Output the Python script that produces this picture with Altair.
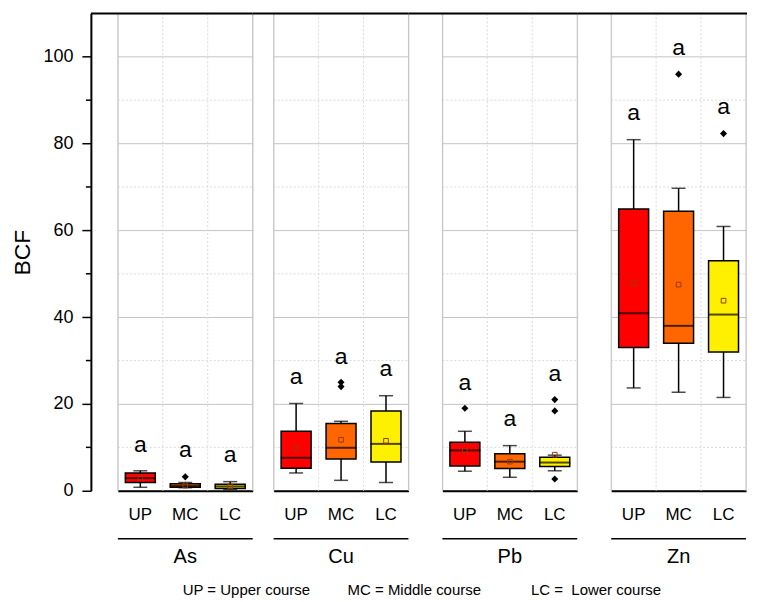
import altair as alt
import pandas as pd

metals = ["As", "Cu", "Pb", "Zn"]
courses = ["UP", "MC", "LC"]
box_colors = ["#FF0000", "#FF6600", "#FFF000"]

# per metal, per course (UP, MC, LC)
whisker_low = [0.8, 0.7, 0.3,   4.1, 2.4, 1.9,   4.5, 3.1, 4.6,   23.7, 22.7, 21.5]
q1          = [1.9, 0.8, 0.5,   5.2, 7.3, 6.6,   5.7, 5.1, 5.6,   33.0, 34.0, 32.0]
median      = [2.9, 1.1, 1.0,   7.6, 9.9, 10.8,  9.3, 6.7, 6.5,   40.9, 38.0, 40.6]
q3          = [4.1, 1.6, 1.5,   13.7, 15.5, 18.4, 11.2, 8.5, 7.7, 64.9, 64.4, 53.0]
whisker_high= [4.6, 1.9, 2.1,   20.1, 16.0, 21.9, 13.7, 10.4, 8.2, 80.9, 69.7, 60.9]
mean        = [3.0, 1.2, 1.0,   9.7, 11.75, 11.5, 9.2, 6.7, 8.3,  47.8, 47.5, 43.8]
letter_y    = [8.9, 7.7, 6.6,   24.5, 29.2, 26.4, 23.3, 15.0, 25.4, 85.4, 100.5, 86.8]

out_metal  = ["As", "Cu", "Cu", "Pb", "Pb", "Pb", "Pb", "Zn", "Zn"]
out_course = ["MC", "MC", "MC", "UP", "LC", "LC", "LC", "MC", "LC"]
out_value  = [3.2, 24.0, 25.0, 19.0, 21.0, 18.4, 2.7, 96.0, 82.3]

minor_grid = [10, 30, 50, 70, 90]
major_ticks = [0, 20, 40, 60, 80, 100]
legend_texts = ["UP = Upper course", "MC = Middle course", "LC = \u00a0Lower course"]

rows = []
i = 0
for m in metals:
    for c in courses:
        rows.append(dict(metal=m, course=c, lo=whisker_low[i], q1=q1[i], med=median[i],
                         q3=q3[i], hi=whisker_high[i], mean=mean[i], ly=letter_y[i], letter="a"))
        i += 1
df_box = pd.DataFrame(rows)
df_out = pd.DataFrame(dict(metal=out_metal, course=out_course, value=out_value))
df_minor = pd.DataFrame(dict(v=minor_grid))
df_one = pd.DataFrame(dict(k=[0]))

W, H = 135, 478
AX_OFF = 27
FONT = "Liberation Sans, Arial, sans-serif"
GRID = "#c4c4c4"
DOT = "#dadada"

xscale = alt.Scale(domain=courses, paddingInner=0, paddingOuter=0)
yscale = alt.Scale(domain=[0, 110], nice=False, zero=False)
cscale = alt.Scale(domain=courses, range=box_colors)


def panel(metal, left_gap, first=False):
    xaxis = alt.Axis(title=None, labelAngle=0, ticks=False, domain=True, domainColor="black",
                     domainWidth=2, labelFont=FONT, labelFontSize=17, labelColor="black",
                     labelPadding=16, grid=False)
    if first:
        yaxis = alt.Axis(title="BCF", values=major_ticks, offset=AX_OFF, grid=True, gridColor=GRID,
                         gridWidth=1, domainColor="black", domainWidth=2, tickColor="black",
                         tickSize=9, tickWidth=1.5, labelFont=FONT, labelFontSize=18,
                         labelColor="black", labelPadding=9, titleFont=FONT, titleFontSize=23,
                         titleFontWeight="normal", titleColor="black", titlePadding=8)
    else:
        yaxis = alt.Axis(title=None, values=major_ticks, labels=False, ticks=False, domain=False,
                         grid=True, gridColor=GRID, gridWidth=1)

    base = alt.Chart(df_box).transform_filter(alt.datum.metal == metal)
    X = alt.X("course:N", scale=xscale, sort=courses, axis=xaxis)

    minor = alt.Chart(df_minor).mark_rule(color=DOT, strokeDash=[2, 2], strokeWidth=1).encode(
        y=alt.Y("v:Q", scale=yscale, axis=yaxis), x=alt.value(0), x2=alt.value(W))
    dividers = alt.Chart(df_one).mark_rule(color=DOT, strokeDash=[2, 2], strokeWidth=1).encode(
        x=alt.value(W / 3), y=alt.value(0), y2=alt.value(H))
    dividers2 = alt.Chart(df_one).mark_rule(color=DOT, strokeDash=[2, 2], strokeWidth=1).encode(
        x=alt.value(2 * W / 3), y=alt.value(0), y2=alt.value(H))
    edge_l = alt.Chart(df_one).mark_rule(color=GRID, strokeWidth=1).encode(
        x=alt.value(0), y=alt.value(0), y2=alt.value(H))
    edge_r = alt.Chart(df_one).mark_rule(color=GRID, strokeWidth=1).encode(
        x=alt.value(W), y=alt.value(0), y2=alt.value(H))
    top = alt.Chart(df_one).mark_rule(color="black", strokeWidth=2).encode(
        x=alt.value(-left_gap), x2=alt.value(W + (1 if metal == "Zn" else 0)), y=alt.value(0))

    whisk = base.mark_rule(color="black", strokeWidth=1.5).encode(
        x=X, y=alt.Y("lo:Q", scale=yscale), y2="hi:Q")
    box = base.mark_bar(size=30, stroke="black", strokeWidth=1.5).encode(
        x=X, y=alt.Y("q1:Q", scale=yscale), y2="q3:Q",
        color=alt.Color("course:N", scale=cscale, legend=None))
    med = base.mark_tick(color="black", thickness=2, size=31, orient="horizontal").encode(
        x=X, y=alt.Y("med:Q", scale=yscale))
    cap_lo = base.mark_tick(color="black", thickness=1.5, size=14, orient="horizontal").encode(
        x=X, y=alt.Y("lo:Q", scale=yscale))
    cap_hi = base.mark_tick(color="black", thickness=1.5, size=14, orient="horizontal").encode(
        x=X, y=alt.Y("hi:Q", scale=yscale))
    mn = base.mark_point(shape="square", size=22, filled=False, color="#9a3a10",
                         strokeWidth=1, opacity=1).encode(x=X, y=alt.Y("mean:Q", scale=yscale))
    outl = alt.Chart(df_out).transform_filter(alt.datum.metal == metal).mark_point(
        shape="diamond", size=50, filled=True, color="black", opacity=1).encode(
        x=X, y=alt.Y("value:Q", scale=yscale))
    letters = base.mark_text(fontSize=23, font=FONT, color="black", baseline="alphabetic").encode(
        x=X, y=alt.Y("ly:Q", scale=yscale), text="letter:N")
    gline = alt.Chart(df_one).mark_rule(color="black", strokeWidth=1.5).encode(
        x=alt.value(0), x2=alt.value(W), y=alt.value(H + 48))
    glabel = alt.Chart(df_one).mark_text(fontSize=20, font=FONT, color="black",
                                         baseline="alphabetic", align="center").encode(
        x=alt.value(W / 2), y=alt.value(H + 72), text=alt.value(metal))

    layers = [minor, dividers, dividers2, edge_l, edge_r, whisk, box, med, cap_lo, cap_hi,
              mn, outl, letters, gline, glabel, top]
    if first:
        minor_ticks = alt.Chart(df_minor).mark_rule(color="black", strokeWidth=1.5).encode(
            y=alt.Y("v:Q", scale=yscale), x=alt.value(-AX_OFF - 5), x2=alt.value(-AX_OFF))
        layers.append(minor_ticks)
    return alt.layer(*layers).properties(width=W, height=H)


legend_line = legend_texts[0] + "\u00a0" * 9 + legend_texts[1] + "\u00a0" * 12 + legend_texts[2]

right = alt.hconcat(panel("Cu", 21), panel("Pb", 34), panel("Zn", 34), spacing=34, bounds="flush")
chart = alt.hconcat(panel("As", AX_OFF, first=True), right, spacing=21, bounds="flush").properties(
    padding={"left": 3, "right": 0, "top": 3, "bottom": 0},
    title=alt.TitleParams(legend_line, orient="bottom", anchor="middle", font=FONT, fontSize=15,
                          fontWeight="normal", color="black", offset=16, dx=42)
).configure_view(stroke=None).configure(font=FONT)

chart.save("out.html", embed_options={"renderer": "svg", "actions": False})
